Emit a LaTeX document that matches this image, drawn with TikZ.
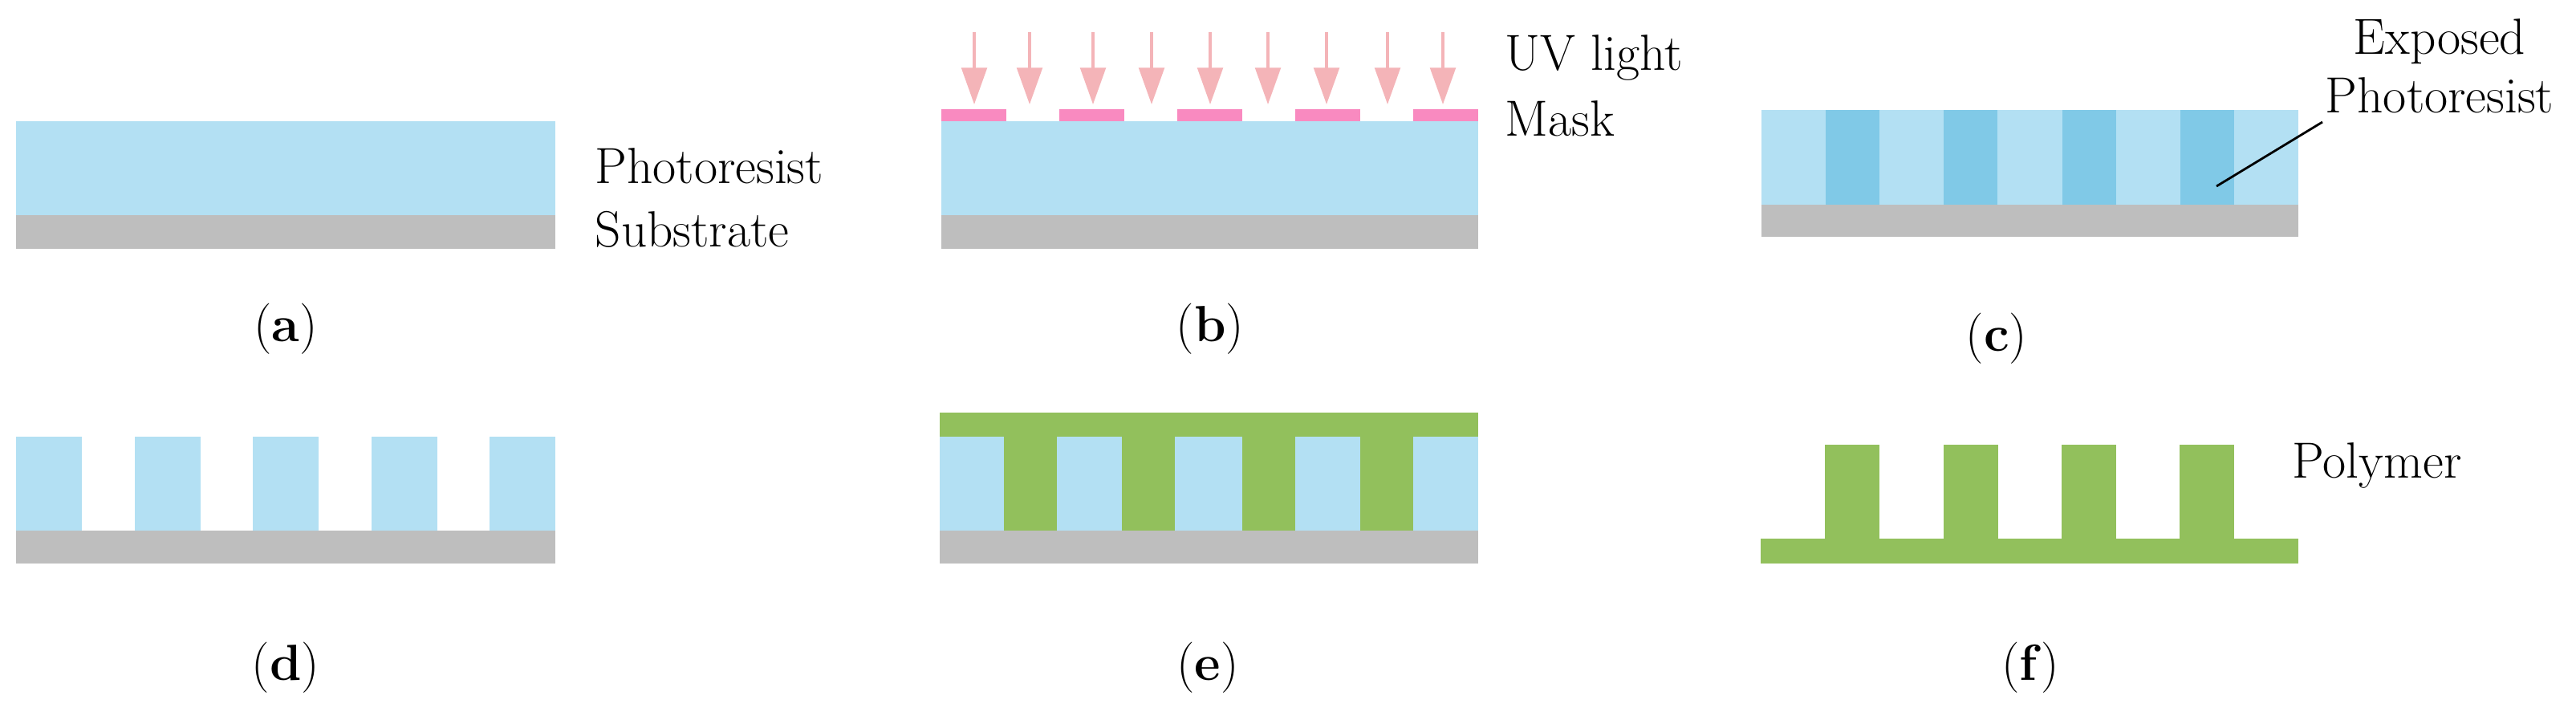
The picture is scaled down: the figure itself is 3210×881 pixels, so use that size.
\documentclass[tikz,border=0pt]{standalone}
\usetikzlibrary{positioning,arrows.meta}
\definecolor{resist}{HTML}{B3E0F3}
\definecolor{exposed}{HTML}{80C9E7}
\definecolor{substr}{HTML}{BEBEBE}
\definecolor{polymer}{HTML}{92C05C}
\definecolor{mask}{HTML}{F98AC0}
\definecolor{uv}{HTML}{F4B4B8}
\tikzset{
  lbl/.style={font=\fontsize{18}{20}\selectfont, inner sep=0pt},
  sublbl/.style={font=\fontsize{18}{20}\selectfont, inner sep=0pt},
  ray/.style={draw=uv, line width=1pt, -{Triangle[width=9pt,length=13pt]}}
}
\begin{document}
\begin{tikzpicture}[x=0.01cm,y=-0.01cm]
\useasboundingbox (0,0) rectangle (3210,881);
% (a)
\fill[resist] (20,151) rectangle (692,268);
\fill[substr] (20,268) rectangle (692,310);
\node[lbl, anchor=base west] (pra) at (741,228) {Photoresist};
\node[lbl, anchor=base west] (suba) at (741,307) {Substrate};
\node[sublbl] (capa) at (356,410) {(\textbf{a})};
% (b)
\fill[resist] (1173,151) rectangle (1842,268);
\fill[substr] (1173,268) rectangle (1842,310);
\foreach \i in {0,...,4}
  \fill[mask] ({1173+147*\i},136) rectangle ({1254+147*\i},151);
\foreach \x in {1214,1283,1362,1435,1508,1580,1653,1729,1798}
  \draw[ray] (\x,40) -- (\x,130);
\node[lbl, anchor=base west] (uvb) at (1875,87) {UV light};
\node[lbl, anchor=base west] (maskb) at (1875,169) {Mask};
\node[sublbl] (capb) at (1508,410) {(\textbf{b})};
% (c)
\fill[resist] (2195,137) rectangle (2864,255);
\fill[substr] (2195,255) rectangle (2864,295);
\foreach \x in {2275,2422,2570,2717}
  \fill[exposed] (\x,137) rectangle ({\x+67},255);
\node[lbl, anchor=base] (expc) at (3040,67) {Exposed};
\node[lbl, anchor=base] (prc) at (3040,140) {Photoresist};
\coordinate (tipc) at (2762,232);
\draw[line width=0.8pt] (2894,152) -- (tipc);
\node[sublbl] (capc) at (2488,422) {(\textbf{c})};
% (d)
\fill[substr] (20,661) rectangle (692,702);
\foreach \i in {0,...,4}
  \fill[resist] ({20+147.5*\i},544) rectangle ({102+147.5*\i},661);
\node[sublbl] (capd) at (356,832) {(\textbf{d})};
% (e)
\fill[substr] (1171,661) rectangle (1842,702);
\fill[resist] (1171,544) rectangle (1842,661);
\fill[polymer] (1171,514) rectangle (1842,544);
\foreach \x in {1251,1398,1548,1695}
  \fill[polymer] (\x,544) rectangle ({\x+66},661);
\node[sublbl] (cape) at (1505,832) {(\textbf{e})};
% (f)
\fill[polymer] (2194,671) rectangle (2864,702);
\foreach \x in {2274,2422,2569,2716}
  \fill[polymer] (\x,554) rectangle ({\x+68},671);
\node[lbl, anchor=base west] (polf) at (2856,595) {Polymer};
\node[sublbl] (capf) at (2530,832) {(\textbf{f})};
\end{tikzpicture}
\end{document}
